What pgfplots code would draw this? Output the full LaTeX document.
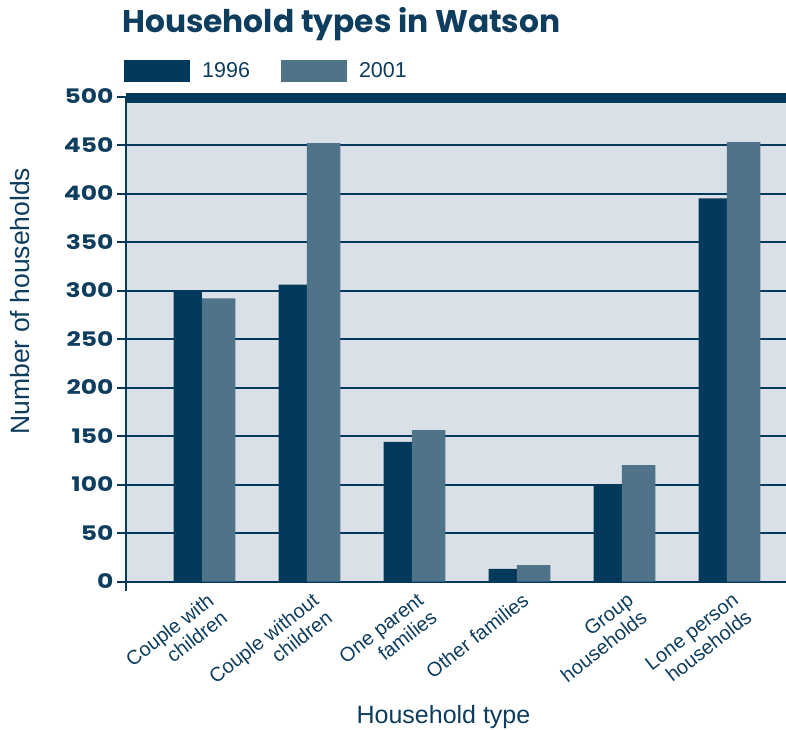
\documentclass[border=0pt]{standalone}
\usepackage{pgfplots}
\pgfplotsset{compat=1.18}
\usepackage{fontspec}
\setmainfont{Liberation Sans}
\newfontfamily\headfont{Poppins}
\newfontfamily\tickfont{Poppins}[FakeStretch=1.25]
\definecolor{navy}{HTML}{03395B}
\definecolor{steel}{HTML}{4F7389}
\definecolor{panel}{HTML}{D9E0E7}
\definecolor{ink}{HTML}{0E3D5E}

\begin{document}
\begin{tikzpicture}
\useasboundingbox (0,0) rectangle (786pt,729pt);
\node[anchor=base west, text=ink, inner sep=0pt,
      font=\headfont\bfseries\fontsize{31.3}{36}\selectfont] at (122pt,696pt) {Household types in Watson};
\begin{axis}[
    name=ax,
    at={(126pt,147.5pt)}, anchor=south west,
    scale only axis, width=660pt, height=485pt,
    xmin=-0.724, xmax=5.562, ymin=0, ymax=500,
    axis x line*=bottom, axis y line*=left,
    axis line style={navy, line width=2pt, -},
    axis background/.style={fill=panel},
    ytick={0,50,...,500},
    ymajorgrids, major grid style={navy, line width=2pt},
    tick align=outside, major tick length=9pt,
    ytick style={navy, line width=2pt},
    xtick style={draw=none},
    /pgf/number format/assume math mode=true,
    yticklabel style={font=\tickfont\bfseries\fontsize{20}{20}\selectfont, text=ink},
    xtick={0,...,5},
    xticklabels={{Couple with\\children},{Couple without\\children},{One parent\\families},
                 {Other families},{Group\\households},{Lone person\\households}},
    xticklabel style={rotate=38, anchor=north east, align=right, xshift=6pt,
                      font=\fontsize{20}{22}\selectfont, text=ink},
    xlabel={Household type},
    xlabel style={at={(axis description cs:0.481,-0.2918)}, anchor=base,
                  font=\fontsize{25}{30}\selectfont, text=ink},
    ylabel={Number of households},
    ylabel style={at={(axis description cs:-0.146,0.578)}, anchor=base,
                  font=\fontsize{26.5}{30}\selectfont, text=ink},
    legend image code/.code={\fill[#1] (0pt,-11pt) rectangle (66pt,11pt);},
    legend columns=2,
    legend cell align=left,
    legend style={at={(0,1)}, anchor=west, xshift=-2pt, yshift=25.5pt,
                  draw=none, fill=none, inner sep=0pt,
                  font=\fontsize{21.5}{24}\selectfont, text=ink,
                  /tikz/every odd column/.append style={column sep=10pt},
                  /tikz/every even column/.append style={column sep=29pt}},
]
\addplot[ybar, bar width=28.3pt, bar shift=-14.2pt, fill=navy, draw=none]
  coordinates {(0,300) (1,306) (2,144) (3,13) (4,100) (5,395)};
\addlegendentry{1996}
\addplot[ybar, bar width=33.3pt, bar shift=16.6pt, fill=steel, draw=none]
  coordinates {(0,292) (1,452) (2,156) (3,17) (4,120) (5,453)};
\addlegendentry{2001}
\end{axis}
\fill[navy] ([yshift=3.5pt]ax.north west) rectangle ([yshift=-6.5pt]ax.north east);
\draw[navy, line width=2pt] (ax.south west) -- ++(0,-9pt);
\end{tikzpicture}
\end{document}
